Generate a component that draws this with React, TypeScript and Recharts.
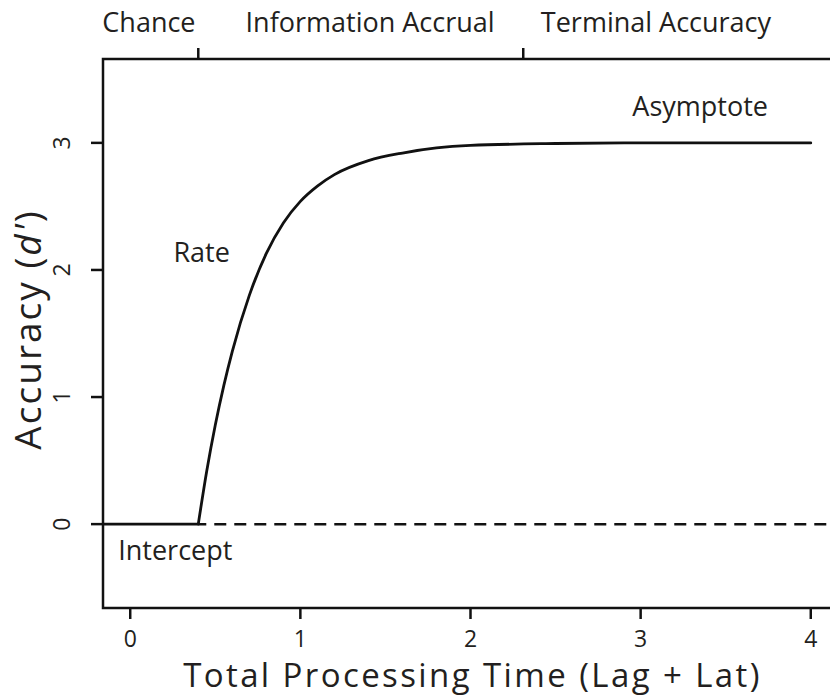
import React from 'react';
import { LineChart, Line, XAxis, YAxis, ReferenceArea, ReferenceDot, Label } from 'recharts';

// values
const xTicks = [0, 1, 2, 3, 4];
const yTicks = [0, 1, 2, 3];

const chanceTime = [-0.16, 0.4];
const chanceAcc = [0, 0];

const accrualTime = [0.4, 0.45, 0.5, 0.55, 0.6, 0.7, 0.8, 0.9, 1.0, 1.1, 1.2, 1.4, 1.6, 1.8, 2.0, 2.5, 3.0, 3.5, 4.0];
const accrualAcc = [0, 0.42, 0.78, 1.09, 1.36, 1.8, 2.13, 2.37, 2.54, 2.66, 2.75, 2.86, 2.92, 2.96, 2.98, 2.995, 3.0, 3.0, 3.0];

const dashTime = [0.4, 4.16];
const dashAcc = [0, 0];

const phaseLabels = ['Chance', 'Information Accrual', 'Terminal Accuracy'];
const phaseCenters = [0.11, 1.41, 3.09];
const phaseBounds = [0.4, 2.31];

const INK = '#231f20';
const LINE = '#111';

const toRows = (ts: number[], vs: number[]) => ts.map((t, i) => ({ t, acc: vs[i] }));

const chanceData = toRows(chanceTime, chanceAcc);
const accrualData = toRows(accrualTime, accrualAcc);
const dashData = toRows(dashTime, dashAcc);

const PhaseTick = (props: any) => {
  const { x, y, payload } = props;
  const i = phaseCenters.indexOf(payload.value);
  if (i >= 0) {
    return (
      <text x={x} y={y - 27} textAnchor="middle" fontSize={27} fill={INK}>
        {phaseLabels[i]}
      </text>
    );
  }
  return <line x1={x} x2={x} y1={y} y2={y - 11} stroke={LINE} strokeWidth={2.5} />;
};

const YTick = (props: any) => {
  const { x, y, payload } = props;
  return (
    <text x={x} y={y} transform={`rotate(-90, ${x}, ${y})`} textAnchor="middle" fontSize={23} fill={INK}>
      {payload.value}
    </text>
  );
};

const Note = (text: string) => (p: any) => {
  const vb = p.viewBox;
  return (
    <text x={vb.x + vb.width / 2} y={vb.y + vb.height / 2} textAnchor="middle" fontSize={27} fill={INK}>
      {text}
    </text>
  );
};

export default function App() {
  return (
    <div style={{ position: 'absolute', left: 0, top: 0, width: 830, height: 697, overflow: 'hidden', background: '#fff' }}>
      <LineChart
        width={850}
        height={697}
        data={accrualData}
        margin={{ top: 0, right: 12, bottom: 0, left: 0 }}
        style={{ fontFamily: '"Open Sans", sans-serif' }}
      >
        <XAxis
          xAxisId="bottom"
          dataKey="t"
          type="number"
          domain={[-0.16, 4.16]}
          allowDataOverflow
          ticks={xTicks}
          interval={0}
          height={89}
          axisLine={false}
          tickLine={{ stroke: LINE, strokeWidth: 2.5 }}
          tickSize={11}
          tickMargin={12}
          tick={{ fill: INK, fontSize: 23 }}
        >
          <Label
            content={(p: any) => (
              <text x={p.viewBox.x + p.viewBox.width / 2 + 2} y={p.viewBox.y + 79} textAnchor="middle"
                fontSize={33} letterSpacing={2.4} fill={INK}>
                Total Processing Time (Lag + Lat)
              </text>
            )}
          />
        </XAxis>
        <XAxis
          xAxisId="top"
          orientation="top"
          dataKey="t"
          type="number"
          domain={[-0.16, 4.16]}
          allowDataOverflow
          ticks={[...phaseCenters, ...phaseBounds].sort((a, b) => a - b)}
          interval={0}
          height={59}
          axisLine={false}
          tickLine={false}
          tickSize={0}
          tickMargin={0}
          tick={<PhaseTick />}
        />
        <YAxis
          type="number"
          domain={[-0.66, 3.66]}
          allowDataOverflow
          ticks={yTicks}
          interval={0}
          width={103}
          axisLine={false}
          tickLine={{ stroke: LINE, strokeWidth: 2.5 }}
          tickSize={12}
          tickMargin={21}
          tick={<YTick />}
        >
          <Label
            content={(p: any) => {
              const cx = 41;
              const cy = p.viewBox.y + p.viewBox.height / 2 - 4;
              return (
                <text x={cx} y={cy} transform={`rotate(-90, ${cx}, ${cy})`} textAnchor="middle"
                  fontSize={37} letterSpacing={2} fill={INK}>
                  Accuracy (<tspan fontStyle="italic">d'</tspan>)
                </text>
              );
            }}
          />
        </YAxis>

        <ReferenceArea
          xAxisId="bottom"
          x1={-0.16}
          x2={4.16}
          y1={-0.66}
          y2={3.66}
          fill="none"
          stroke={LINE}
          strokeWidth={2.5}
          ifOverflow="visible"
        />

        <Line xAxisId="bottom" data={dashData} dataKey="acc" type="linear" stroke={LINE} strokeWidth={2.5}
          strokeDasharray="12 8" strokeDashoffset={4} dot={false} activeDot={false} isAnimationActive={false} />
        <Line xAxisId="bottom" data={chanceData} dataKey="acc" type="linear" stroke={LINE} strokeWidth={2.8}
          dot={false} activeDot={false} isAnimationActive={false} />
        <Line xAxisId="bottom" data={accrualData} dataKey="acc" type="monotone" stroke={LINE} strokeWidth={2.8}
          strokeLinecap="round" dot={false} activeDot={false} isAnimationActive={false} />

        <ReferenceDot xAxisId="bottom" x={3.35} y={3.21} r={1} fill="none" stroke="none" label={Note('Asymptote')} />
        <ReferenceDot xAxisId="bottom" x={0.42} y={2.06} r={1} fill="none" stroke="none" label={Note('Rate')} />
        <ReferenceDot xAxisId="bottom" x={0.265} y={-0.28} r={1} fill="none" stroke="none" label={Note('Intercept')} />
      </LineChart>
    </div>
  );
}
